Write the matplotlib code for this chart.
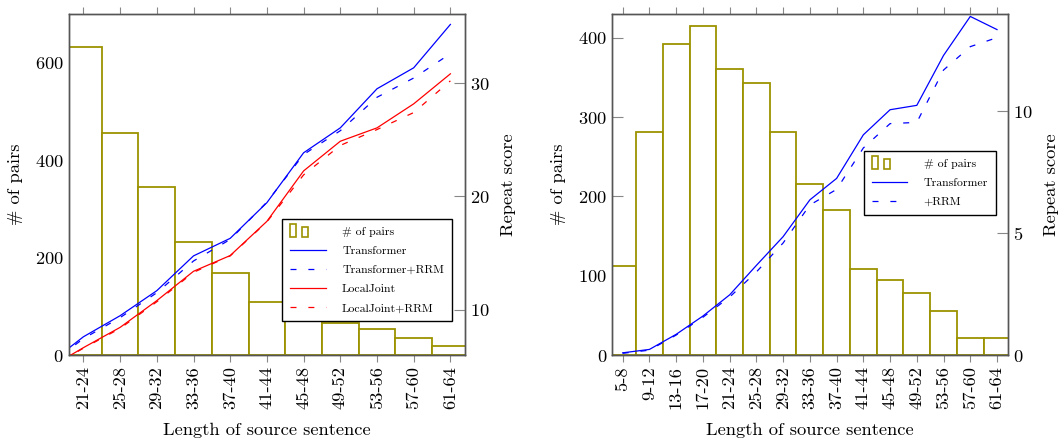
import numpy as np
import matplotlib
matplotlib.use("Agg")
import matplotlib.pyplot as plt
from matplotlib.legend_handler import HandlerBase
from matplotlib.patches import Rectangle

plt.rcParams['font.family'] = 'serif'
plt.rcParams['font.serif'] = ['cmr10', 'DejaVu Serif']
plt.rcParams['mathtext.fontset'] = 'cm'
plt.rcParams['axes.unicode_minus'] = False
plt.rcParams['axes.formatter.use_mathtext'] = True

OLIVE = '#9c9200'
SPINE = '#555555'
FS = 13.3

# ---- left chart: LocalJoint comparison ----
left_bins = ["21-24", "25-28", "29-32", "33-36", "37-40", "41-44",
             "45-48", "49-52", "53-56", "57-60", "61-64"]
left_pairs = [633, 456, 345, 232, 169, 109, 85, 65, 53, 34, 18]
# line series start one bin earlier ("17-20"), which is cut off by the axis
left_line_bins = ["17-20"] + left_bins
left_transformer = [5.1, 7.61, 9.47, 11.68, 14.75, 16.3, 19.45, 23.85, 26.05, 29.5, 31.35, 35.18]
left_transformer_rrm = [5.0, 7.45, 9.3, 11.5, 14.3, 16.2, 19.5, 23.7, 25.8, 28.75, 30.45, 32.6]
left_localjoint = [4.75, 6.65, 8.44, 10.8, 13.39, 14.78, 17.8, 22.25, 24.87, 26.05, 28.17, 30.82]
left_localjoint_rrm = [4.75, 6.6, 8.35, 10.7, 13.3, 14.75, 17.75, 21.9, 24.5, 25.9, 27.4, 30.2]

# ---- right chart: Transformer vs +RRM ----
right_bins = ["5-8", "9-12", "13-16", "17-20", "21-24", "25-28", "29-32", "33-36",
              "37-40", "41-44", "45-48", "49-52", "53-56", "57-60", "61-64"]
right_pairs = [112, 281, 392, 415, 361, 343, 281, 216, 183, 108, 94, 78, 55, 22, 21]
right_transformer = [0.09, 0.23, 0.85, 1.6, 2.47, 3.68, 4.86, 6.37, 7.25, 9.04,
                     10.07, 10.25, 12.3, 13.9, 13.36]
right_rrm = [0.07, 0.2, 0.82, 1.55, 2.38, 3.41, 4.6, 6.16, 6.8, 8.5,
             9.5, 9.55, 11.7, 12.66, 13.03]

DASH = (0, (4.8, 9.5))


class BarPairHandler(HandlerBase):
    # two little bars, like the pgfplots ybar legend image
    def create_artists(self, legend, orig_handle, xdescent, ydescent,
                       width, height, fontsize, trans):
        x0, y0 = -xdescent, -ydescent
        w = width * 0.17
        r1 = Rectangle((x0, y0 - 0.3 * height), w, 1.6 * height,
                       facecolor='white', edgecolor=OLIVE, lw=1.2, transform=trans)
        r2 = Rectangle((x0 + 0.33 * width, y0 - 0.3 * height), w, 1.25 * height,
                       facecolor='white', edgecolor=OLIVE, lw=1.2, transform=trans)
        return [r1, r2]


def style_axes(ax, ax2):
    for a in (ax, ax2):
        for s in a.spines.values():
            s.set_color(SPINE)
            s.set_linewidth(1.0)
    ax.tick_params(axis='x', direction='out', top=True, length=5, color='#888888',
                   labelrotation=90, labelsize=FS, pad=3)
    ax.tick_params(axis='y', direction='in', length=8, color='#888888', labelsize=FS)
    ax2.tick_params(axis='y', direction='in', length=8, color='#888888', labelsize=FS)


def draw_panel(fig, rect, bins, pairs, line_x, series, ylim_pairs, ylim_score,
               score_ticks, pair_ticks, legend_anchor):
    ax = fig.add_axes(rect)
    x = np.arange(len(bins))
    bars = ax.bar(x, pairs, width=1.0, facecolor='white', edgecolor=OLIVE,
                  linewidth=1.3, zorder=2)
    ax.set_xlim(-0.4, len(bins) - 1 + 0.4)
    ax.set_ylim(*ylim_pairs)
    ax.set_xticks(x)
    ax.set_xticklabels(bins)
    ax.set_yticks(pair_ticks)
    ax.set_xlabel("Length of source sentence", fontsize=FS, labelpad=10)
    ax.set_ylabel("# of pairs", fontsize=FS, labelpad=8.5)

    ax2 = ax.twinx()
    handles = [bars]
    labels = ["# of pairs"]
    for vals, color, ls, name in series:
        ln, = ax2.plot(line_x, vals, color=color, linestyle=ls, lw=0.9)
        handles.append(ln)
        labels.append(name)
    ax2.set_ylim(*ylim_score)
    ax2.set_yticks(score_ticks)
    ax2.set_ylabel("Repeat score", fontsize=FS, labelpad=8)
    style_axes(ax, ax2)

    leg = ax2.legend(handles, labels, loc='upper right', bbox_to_anchor=legend_anchor,
                     borderaxespad=0, fontsize=8.5, fancybox=False, framealpha=1,
                     edgecolor='black', handlelength=3.0, handletextpad=1.4,
                     labelspacing=0.75, borderpad=0.65,
                     handler_map={type(bars): BarPairHandler()})
    leg.get_frame().set_linewidth(1.0)
    return ax, ax2


fig = plt.figure(figsize=(10.64, 4.43), dpi=100)

left_series = [
    (left_transformer, 'blue', '-', "Transformer"),
    (left_transformer_rrm, 'blue', DASH, "Transformer+RRM"),
    (left_localjoint, 'red', '-', "LocalJoint"),
    (left_localjoint_rrm, 'red', DASH, "LocalJoint+RRM"),
]
left_line_x = np.arange(len(left_line_bins)) - 1
draw_panel(fig, [0.0646, 0.1986, 0.3725, 0.7698], left_bins, left_pairs,
           left_line_x, left_series, (0, 700), (6.0, 36.1),
           [10, 20, 30], [0, 200, 400, 600], (0.966, 0.399))

right_series = [
    (right_transformer, 'blue', '-', "Transformer"),
    (right_rrm, 'blue', DASH, "+RRM"),
]
right_line_x = np.arange(len(right_bins))
draw_panel(fig, [0.5752, 0.1986, 0.3719, 0.7698], right_bins, right_pairs,
           right_line_x, right_series, (0, 430), (0, 14.0),
           [0, 5, 10], [0, 100, 200, 300, 400], (0.970, 0.599))

fig.savefig("out.png", dpi=100)
